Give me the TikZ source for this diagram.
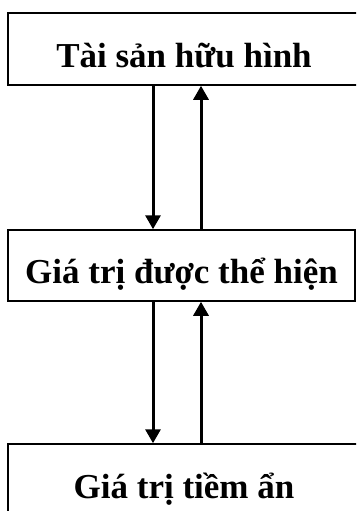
\documentclass[tikz,border=0pt]{standalone}
\usepackage{fontspec}
\setmainfont{Liberation Serif}
\usetikzlibrary{arrows.meta}
\tikzset{
  box/.style={draw=black, line width=1.5pt, rectangle, inner sep=0pt,
    minimum height=72pt, text height=36pt, text depth=0pt,
    font=\fontsize{35}{40}\selectfont\bfseries},
  arr/.style={line width=3pt, -{Triangle[width=15pt,length=14pt]}}
}
\begin{document}
\begin{tikzpicture}[x=1pt,y=-1pt]
\useasboundingbox (0,0) rectangle (356,511);
\clip (0,0) rectangle (356,511);
\node[box, minimum width=352pt] (top) at (184,49) {Tài sản hữu hình};
\node[box, minimum width=347pt, minimum height=71pt] (mid) at (181.5,265.5) {Giá trị được thể hiện};
\node[box, minimum width=352pt] (bot) at (184,480) {Giá trị tiềm ẩn};
\coordinate (dn) at (153,0);
\coordinate (upc) at (201,0);
\draw[arr] (top.south -| dn) -- (mid.north -| dn);
\draw[arr] (mid.north -| upc) -- (top.south -| upc);
\draw[arr] (mid.south -| dn) -- (bot.north -| dn);
\draw[arr] (bot.north -| upc) -- (mid.south -| upc);
\end{tikzpicture}
\end{document}
